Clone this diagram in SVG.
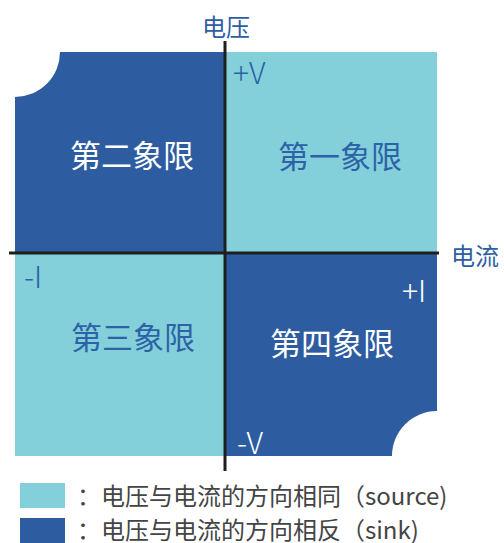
<svg xmlns="http://www.w3.org/2000/svg" width="504" height="543" viewBox="0 0 504 543">
<style>
.light{fill:#83D0DB}
.dark{fill:#2E5CA0}
text{font-family:"Noto Sans CJK SC","Noto Sans",sans-serif;dominant-baseline:central}
.q{font-size:31px;text-anchor:middle}
.onl{fill:#2D62A6}
.ond{fill:#FFFFFF}
.ax{font-size:24px;fill:#2D5EA2}
.sym{font-size:30px;font-weight:300}
.leg{font-size:24px;fill:#444444}
.axis{stroke:#1E1E1E;stroke-width:3;fill:none}
</style>
<g id="q2"><path class="dark" d="M15,97 A45,45 0 0 0 60,52 L226,52 L226,253 L15,253 Z"/><text class="q ond" x="132" y="153">第二象限</text></g>
<g id="q1"><rect class="light" x="226" y="52" width="211" height="201"/><text class="q onl" x="340" y="154">第一象限</text><text class="sym onl" x="233" y="71">+V</text></g>
<g id="q3"><rect class="light" x="15" y="253" width="211" height="203"/><text class="q onl" x="133" y="335">第三象限</text><text class="sym onl" x="24" y="275">-I</text></g>
<g id="q4"><path class="dark" d="M226,253 L437,253 L437,411 A45,45 0 0 0 392,456 L226,456 Z"/><text class="q ond" x="332" y="341">第四象限</text><text class="sym ond" x="402" y="289">+I</text><text class="sym ond" x="237" y="441">-V</text></g>
<g id="connectors"><line class="axis" x1="225" y1="41" x2="225" y2="471"/><line class="axis" x1="9" y1="253" x2="439" y2="253"/></g>
<g id="labels"><text class="ax" x="202" y="25">电压</text><text class="ax" x="451" y="254">电流</text></g>
<g id="legend"><rect class="light" x="20" y="483" width="45" height="25"/><text class="leg" x="77" y="494">：电压与电流的方向相同（source)</text><rect class="dark" x="20" y="518" width="45" height="25"/><text class="leg" x="77" y="528">：电压与电流的方向相反（sink)</text></g>
</svg>
